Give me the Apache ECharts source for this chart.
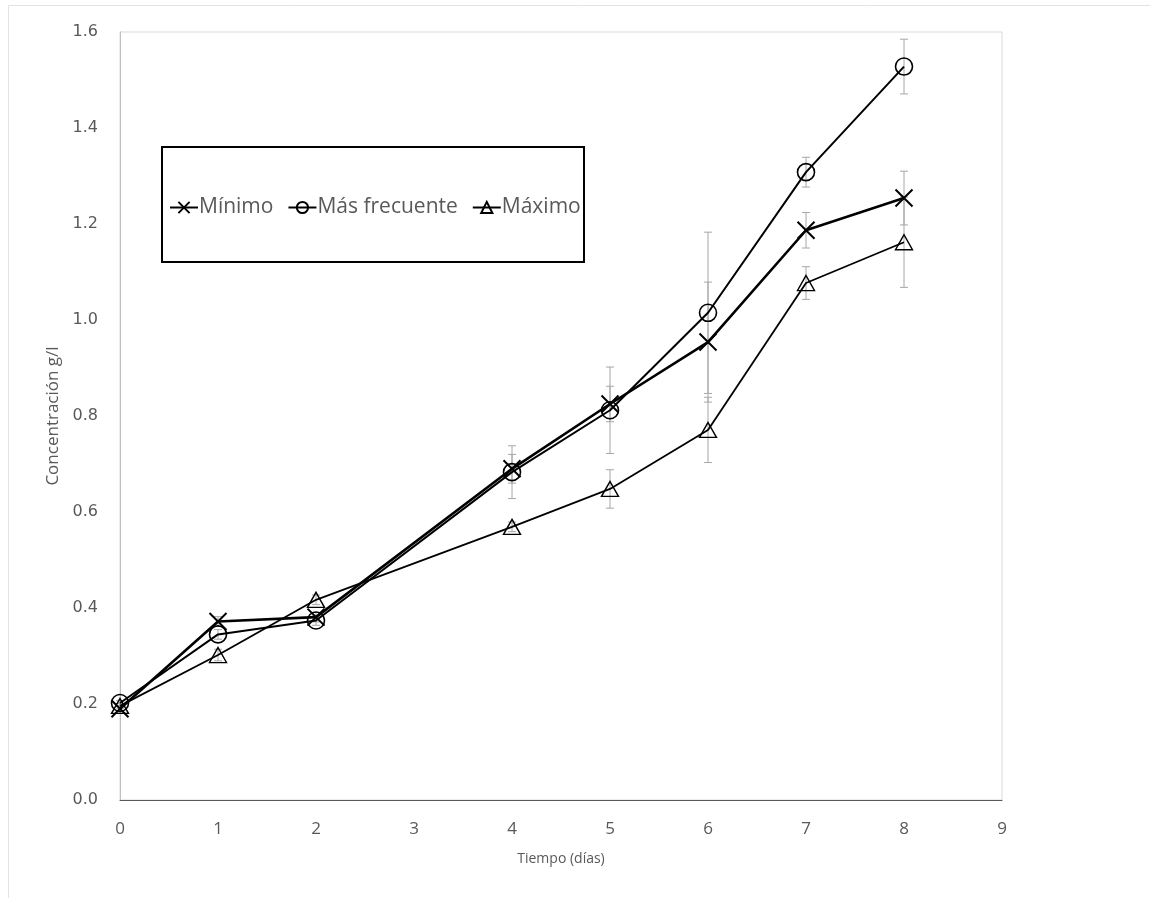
<!DOCTYPE html>
<html>
<head>
<meta charset="utf-8">
<script src="https://cdn.jsdelivr.net/npm/echarts@6/dist/echarts.min.js"></script>
<style>html,body{margin:0;padding:0;background:#fff;}#c{width:1150px;height:898px;}</style>
</head>
<body>
<div id="c"></div>
<script>
var days = [0, 1, 2, 4, 5, 6, 7, 8];
var minimo = [0.19, 0.372, 0.381, 0.69, 0.825, 0.954, 1.187, 1.254];
var masFrecuente = [0.202, 0.345, 0.374, 0.683, 0.812, 1.015, 1.308, 1.528];
var maximo = [0.196, 0.302, 0.417, 0.569, 0.648, 0.771, 1.077, 1.162];
var errMinimo = [0.005, 0.01, 0.01, 0.03, 0.037, 0.125, 0.037, 0.056];
var errMasFrecuente = [0.005, 0.01, 0.01, 0.055, 0.09, 0.168, 0.031, 0.057];
var errMaximo = [0.005, 0.012, 0.01, 0.01, 0.04, 0.068, 0.034, 0.094];
var seriesNames = ['Mínimo', 'Más frecuente', 'Máximo'];
var xTicks = [0, 1, 2, 3, 4, 5, 6, 7, 8, 9];
var yTicks = [0, 0.2, 0.4, 0.6, 0.8, 1.0, 1.2, 1.4, 1.6];

function pairs(vals) { return days.map(function (d, i) { return [d, vals[i]]; }); }
function errData(vals, errs) { return days.map(function (d, i) { return [d, vals[i] - errs[i], vals[i] + errs[i]]; }); }

var GRAY = '#595959';
function renderErr(params, api) {
  var x = api.value(0), lo = api.value(1), hi = api.value(2);
  var p1 = api.coord([x, hi]), p2 = api.coord([x, lo]);
  var w = 4, st = { stroke: '#a6a6a6', lineWidth: 1 };
  return { type: 'group', children: [
    { type: 'line', shape: { x1: p1[0], y1: p1[1], x2: p2[0], y2: p2[1] }, style: st },
    { type: 'line', shape: { x1: p1[0] - w, y1: p1[1], x2: p1[0] + w, y2: p1[1] }, style: st },
    { type: 'line', shape: { x1: p2[0] - w, y1: p2[1], x2: p2[0] + w, y2: p2[1] }, style: st }
  ] };
}
function errSeries(vals, errs) {
  return { type: 'custom', renderItem: renderErr, data: errData(vals, errs), encode: { x: 0, y: [1, 2] }, z: 1, silent: true };
}

var chart = echarts.init(document.getElementById('c'), null, { renderer: 'canvas' });
chart.setOption({
  backgroundColor: '#fff',
  animation: false,
  graphic: [
    { type: 'line', shape: { x1: 8.5, y1: 5.5, x2: 8.5, y2: 898 }, style: { stroke: '#e3e3e3', lineWidth: 1 } },
    { type: 'line', shape: { x1: 8.5, y1: 5.5, x2: 1150, y2: 5.5 }, style: { stroke: '#e3e3e3', lineWidth: 1 } },
    { type: 'rect', shape: { x: 162, y: 147, width: 422, height: 115 }, style: { fill: '#fff', stroke: '#000', lineWidth: 2 }, z: 50 }
  ],
  grid: { left: 120, right: 148, top: 32, bottom: 98, show: true, borderColor: '#d9d9d9', borderWidth: 1 },
  legend: {
    data: seriesNames,
    left: 164, top: 192,
    itemWidth: 28, itemHeight: 14, itemGap: 14,
    z: 60,
    textStyle: { color: GRAY, fontFamily: 'Open Sans', fontSize: 21, padding: [0, 0, 0, -4] }
  },
  xAxis: {
    type: 'value', min: 0, max: 9, interval: 1,
    name: 'Tiempo (días)', nameLocation: 'middle', nameGap: 52,
    nameTextStyle: { color: GRAY, fontFamily: 'Open Sans', fontSize: 14 },
    axisLine: { show: true, lineStyle: { color: '#595959', width: 1 } },
    axisTick: { show: false },
    splitLine: { show: false },
    axisLabel: { color: GRAY, fontFamily: 'Open Sans', fontSize: 17, margin: 21,
      formatter: function (v) { return xTicks.indexOf(v) >= 0 ? String(v) : ''; } }
  },
  yAxis: {
    type: 'value', min: 0, max: 1.6, interval: 0.2,
    name: 'Concentración g/l', nameLocation: 'middle', nameGap: 57,
    nameTextStyle: { color: GRAY, fontFamily: 'Open Sans', fontSize: 17 },
    axisLine: { show: true, lineStyle: { color: '#bfbfbf', width: 1 } },
    axisTick: { show: false },
    splitLine: { show: false },
    axisLabel: { color: GRAY, fontFamily: 'DejaVu Sans', fontSize: 16, margin: 22,
      formatter: function (v) { return v.toFixed(1); } }
  },
  series: [
    errSeries(minimo, errMinimo),
    errSeries(masFrecuente, errMasFrecuente),
    errSeries(maximo, errMaximo),
    { name: seriesNames[0], type: 'line', data: pairs(minimo), z: 5,
      symbol: 'path://M0,0L10,10M10,0L0,10', symbolSize: 17, showAllSymbol: true,
      lineStyle: { color: '#000', width: 2.6 },
      itemStyle: { color: 'rgba(0,0,0,0)', borderColor: '#000', borderWidth: 2 } },
    { name: seriesNames[1], type: 'line', data: pairs(masFrecuente), z: 5,
      symbol: 'circle', symbolSize: 17, showAllSymbol: true,
      lineStyle: { color: '#000', width: 2 },
      itemStyle: { color: 'rgba(0,0,0,0)', borderColor: '#000', borderWidth: 1.6 } },
    { name: seriesNames[2], type: 'line', data: pairs(maximo), z: 5,
      symbol: 'triangle', symbolSize: [17, 15], showAllSymbol: true,
      lineStyle: { color: '#000', width: 1.8 },
      itemStyle: { color: 'rgba(0,0,0,0)', borderColor: '#000', borderWidth: 1.4 } }
  ]
});
</script>
</body>
</html>
